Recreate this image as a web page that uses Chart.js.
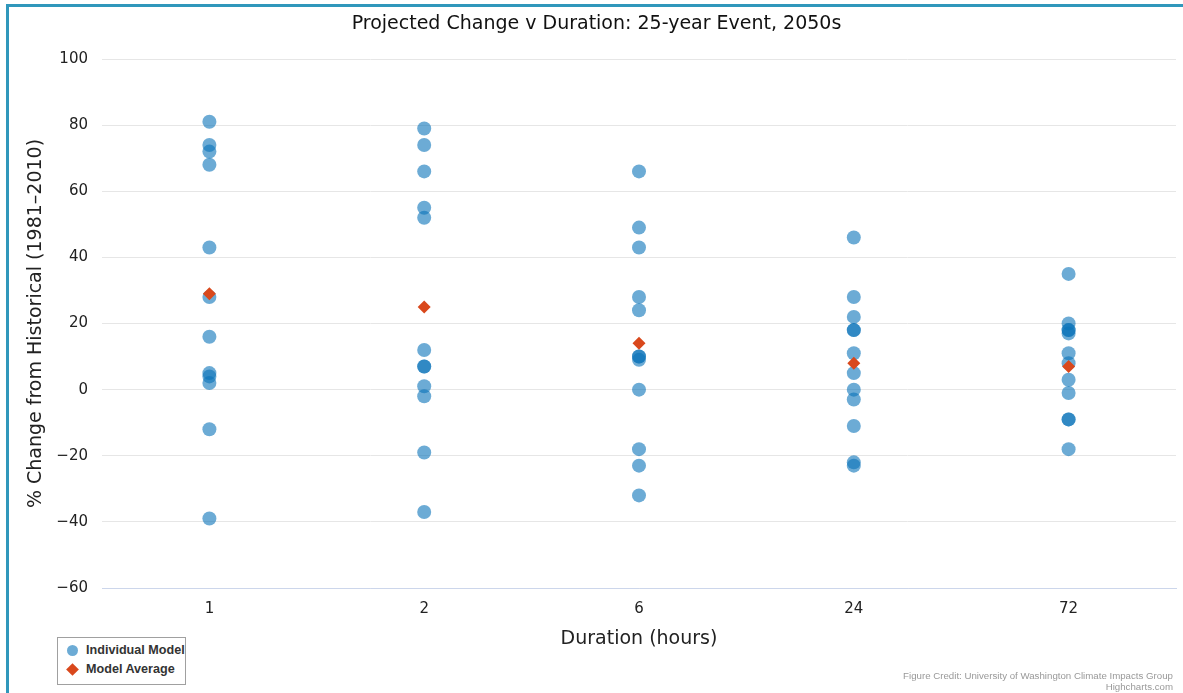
<!DOCTYPE html>
<html>
<head>
<meta charset="utf-8">
<script src="https://cdn.jsdelivr.net/npm/chart.js@4/dist/chart.umd.min.js"></script>
<style>
  html, body { margin: 0; padding: 0; background: #fff; overflow: hidden; }
  #wrap { position: relative; width: 1183px; height: 693px; }
  #frame { position: absolute; left: 6px; top: 4px; width: 1300px; height: 800px;
           border-top: 3px solid #3097bb; border-left: 3px solid #3097bb; box-sizing: border-box; pointer-events: none; }
  canvas { position: absolute; left: 0; top: 0; }
  #legend { position: absolute; left: 57px; top: 637px; width: 129px; height: 48px;
            border: 1px solid #a0a0a0; background: #fff; overflow: hidden; box-sizing: border-box;
            font: bold 12.6px "Liberation Sans", Arial, sans-serif; color: #333; }
  .item { position: absolute; left: 28px; white-space: nowrap; }
  .dot { position: absolute; width: 11px; height: 11px; border-radius: 50%; background: rgba(10,115,185,0.6); }
  .dia { position: absolute; width: 9px; height: 9px; background: #d9481c; transform: rotate(45deg); }
  #credit { position: absolute; right: 10px; top: 670px; text-align: right;
            font: 9.7px "Liberation Sans", Arial, sans-serif; color: #999; line-height: 11px; }
</style>
</head>
<body>
<div id="wrap">
  <canvas id="c" width="1183" height="693"></canvas>
  <div id="frame"></div>
  <div id="legend">
    <div class="dot" style="left:9px; top:7px;"></div>
    <div class="item" style="top:5px;">Individual Model</div>
    <div class="dia" style="left:10px; top:27px;"></div>
    <div class="item" style="top:24px;">Model Average</div>
  </div>
  <div id="credit">Figure Credit: University of Washington Climate Impacts Group<br>Highcharts.com</div>
</div>
<script>
const categories = ['1', '2', '6', '24', '72'];
const dur1  = [81, 74, 72, 68, 43, 28, 16, 5, 4, 2, -12, -39];
const dur2  = [79, 74, 66, 55, 52, 12, 7, 7, 1, -2, -19, -37];
const dur6  = [66, 49, 43, 28, 24, 10, 10, 9, 0, -18, -23, -32];
const dur24 = [46, 28, 22, 18, 18, 11, 5, 0, -3, -11, -22, -23];
const dur72 = [35, 20, 18, 18, 17, 11, 8, 3, -1, -9, -9, -18];
const modelAverage = [29, 25, 14, 8, 7];
const yTicks = [-60, -40, -20, 0, 20, 40, 60, 80, 100];

const perCategory = [dur1, dur2, dur6, dur24, dur72];
const individualPoints = [];
perCategory.forEach((vals, i) => vals.forEach(v => individualPoints.push({ x: categories[i], y: v })));
const averagePoints = modelAverage.map((v, i) => ({ x: categories[i], y: v }));

const tickFont = { family: 'DejaVu Sans', size: 15 };
const titleFont = { family: 'DejaVu Sans', size: 19 };

new Chart(document.getElementById('c'), {
  type: 'scatter',
  data: {
    labels: categories,
    datasets: [
      {
        label: 'Model Average',
        data: averagePoints,
        pointStyle: 'rectRot',
        pointRadius: 6.5,
        pointHoverRadius: 6.5,
        backgroundColor: '#d9481c',
        borderWidth: 0,
        order: 0
      },
      {
        label: 'Individual Model',
        data: individualPoints,
        pointStyle: 'circle',
        pointRadius: 7,
        pointHoverRadius: 7,
        backgroundColor: 'rgba(10,115,185,0.6)',
        borderWidth: 0,
        order: 1
      }
    ]
  },
  options: {
    responsive: false,
    animation: false,
    layout: { padding: { left: 15, right: 5, top: 0, bottom: 43 } },
    plugins: {
      legend: { display: false },
      tooltip: { enabled: false },
      title: {
        display: true,
        text: 'Projected Change v Duration: 25-year Event, 2050s',
        color: '#111',
        font: { family: 'DejaVu Sans', size: 19, weight: 'normal' },
        padding: { top: 12.6, bottom: 23.6 }
      }
    },
    scales: {
      x: {
        type: 'category',
        labels: categories,
        offset: true,
        grid: { display: false, drawTicks: false },
        border: { display: true, color: '#ccd6eb', width: 1 },
        ticks: { color: '#222', font: tickFont, padding: 12 },
        title: { display: true, text: 'Duration (hours)', color: '#222', font: titleFont, padding: { top: 10, bottom: 0 } },
        afterFit: s => { s.height = 62; s.paddingLeft = 0; s.paddingRight = 0; }
      },
      y: {
        min: -60,
        max: 100,
        afterBuildTicks: s => { s.ticks = yTicks.map(v => ({ value: v })); },
        grid: { color: '#e6e6e6', drawTicks: false },
        border: { display: false },
        ticks: {
          color: '#222', font: tickFont, padding: 14,
          callback: v => (v < 0 ? '\u2212' + Math.abs(v) : String(v))
        },
        title: { display: true, text: '% Change from Historical (1981\u20132010)', color: '#222', font: titleFont, padding: { top: 10, bottom: 0 } },
        afterFit: s => { s.width = 87; s.paddingTop = 0; s.paddingBottom = 0; }
      }
    }
  }
});
</script>
</body>
</html>
